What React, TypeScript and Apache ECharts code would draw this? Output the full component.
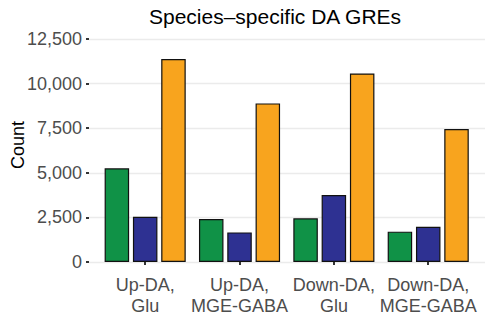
import React, { useEffect, useRef } from "react";
import * as echarts from "echarts";

const categories = ["Up-DA,\nGlu", "Up-DA,\nMGE-GABA", "Down-DA,\nGlu", "Down-DA,\nMGE-GABA"];
const greenValues = [5250, 2410, 2450, 1700];
const blueValues = [2540, 1660, 3750, 1980];
const orangeValues = [11380, 8890, 10570, 7450];
const yTicks = [0, 2500, 5000, 7500, 10000, 12500];

const FONT = "'Liberation Sans', Arial, Helvetica, sans-serif";

export default function App() {
  const ref = useRef<HTMLDivElement>(null);
  useEffect(() => {
    if (!ref.current) return;
    const chart = echarts.init(ref.current, null, { renderer: "svg" });
    const barStyle = (color: string) => ({
      color,
      borderColor: "#111",
      borderWidth: 1.2,
    });
    chart.setOption({
      animation: false,
      backgroundColor: "#fff",
      textStyle: { fontFamily: FONT },
      grid: [
        { left: 89, right: 3, top: 39, bottom: 62 },
        { left: 98, right: 12.6, top: 39, bottom: 62 },
      ],
      xAxis: [
        { type: "category", gridIndex: 0, data: categories, show: false },
        {
          type: "category",
          gridIndex: 1,
          data: categories,
          axisLine: { show: false },
          axisTick: {
            show: true,
            alignWithLabel: true,
            length: 3,
            lineStyle: { color: "#333", width: 2 },
          },
          axisLabel: {
            margin: 12,
            fontSize: 18,
            lineHeight: 21,
            color: "#4d4d4d",
            fontFamily: FONT,
            interval: 0,
          },
          splitLine: { show: false },
        },
      ],
      yAxis: [
        {
          type: "value",
          gridIndex: 0,
          min: 0,
          max: yTicks[yTicks.length - 1],
          interval: 2500,
          axisLine: { show: false },
          axisTick: { show: true, length: 3, lineStyle: { color: "#333", width: 2 } },
          axisLabel: {
            margin: 7,
            fontSize: 18,
            color: "#4d4d4d",
            fontFamily: FONT,
            formatter: (v: number) => v.toLocaleString("en-US"),
          },
          splitLine: { show: true, lineStyle: { color: "#ebebeb", width: 1.3 } },
        },
        {
          type: "value",
          gridIndex: 1,
          min: 0,
          max: yTicks[yTicks.length - 1],
          interval: 2500,
          show: false,
          splitLine: { show: false },
        },
      ],
      graphic: [
        {
          type: "text",
          x: 275,
          y: 16,
          style: {
            text: "Species–specific DA GREs",
            fontSize: 21,
            fontFamily: FONT,
            fill: "#000",
            align: "center",
            verticalAlign: "middle",
          },
        },
        {
          type: "text",
          x: 17.5,
          y: 145,
          rotation: Math.PI / 2,
          style: {
            text: "Count",
            fontSize: 18,
            fontFamily: FONT,
            fill: "#000",
            align: "center",
            verticalAlign: "middle",
          },
        },
      ],
      series: [
        {
          type: "bar",
          xAxisIndex: 1,
          yAxisIndex: 1,
          data: greenValues,
          barWidth: 24.5,
          barGap: "15.5%",
          itemStyle: barStyle("#109247"),
        },
        {
          type: "bar",
          xAxisIndex: 1,
          yAxisIndex: 1,
          data: blueValues,
          barWidth: 24.5,
          barGap: "15.5%",
          itemStyle: barStyle("#2e3192"),
        },
        {
          type: "bar",
          xAxisIndex: 1,
          yAxisIndex: 1,
          data: orangeValues,
          barWidth: 24.5,
          barGap: "15.5%",
          itemStyle: barStyle("#f8a41e"),
        },
      ],
    });
    return () => chart.dispose();
  }, []);
  return <div ref={ref} style={{ width: 488, height: 324, position: "absolute", left: 0, top: 0 }} />;
}
